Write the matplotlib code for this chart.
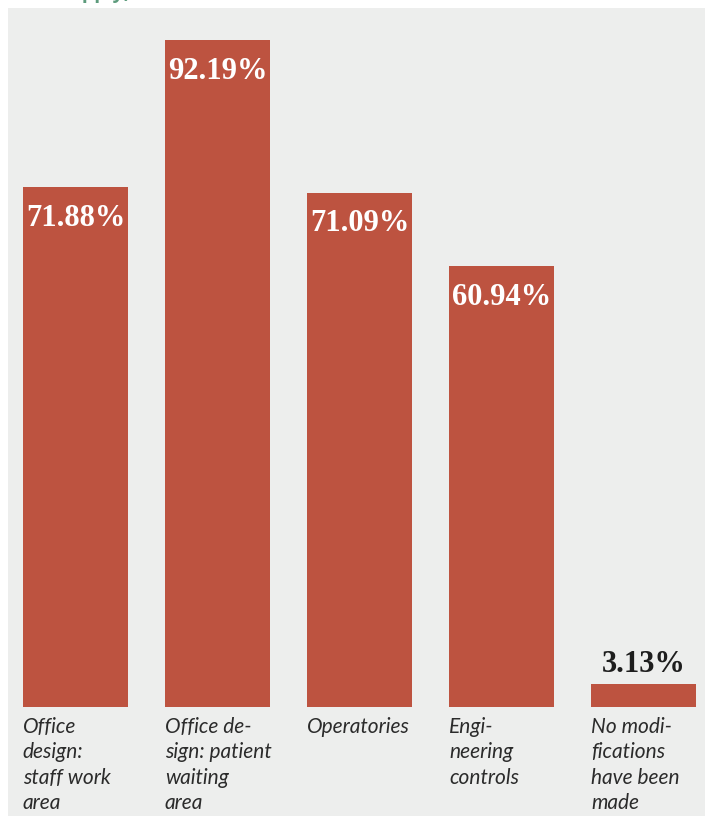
import numpy as np
import matplotlib.pyplot as plt

categories = ["Office\ndesign:\nstaff work\narea",
              "Office de-\nsign: patient\nwaiting\narea",
              "Operatories",
              "Engi-\nneering\ncontrols",
              "No modi-\nfications\nhave been\nmade"]
values = [71.88, 92.19, 71.09, 60.94, 3.13]

bar_color = "#bd5340"
panel_color = "#edeeed"

fig = plt.figure(figsize=(7.05, 8.16), dpi=100)
ax = fig.add_axes([8 / 705, 0, 697 / 705, 808 / 816])
ax.set_facecolor(panel_color)

x = np.arange(len(values))
bars = ax.bar(x, values, width=0.74, color=bar_color)

ax.set_xlim(-0.475, 4.433)
ax.set_ylim(-15.07, 96.61)
for s in ax.spines.values():
    s.set_visible(False)
ax.set_xticks([])
ax.set_yticks([])

for xi, v, lab in zip(x, values, categories):
    if v > 10:
        ax.annotate(f"{v:.2f}%", (xi, v), xytext=(0, -12), textcoords="offset points",
                    ha="center", va="top", color="white", fontsize=22,
                    fontweight="bold", family="Liberation Serif")
    else:
        ax.annotate(f"{v:.2f}%", (xi, v), xytext=(0, 4), textcoords="offset points",
                    ha="center", va="bottom", color="#1e1e1e", fontsize=22,
                    fontweight="bold", family="Liberation Serif")
    ax.annotate(lab, (xi - 0.37, 0), xytext=(0, -7), textcoords="offset points",
                ha="left", va="top", color="#2b2b2b", fontsize=15, style="italic",
                family=["Lato", "DejaVu Sans"], linespacing=1.34)

# title line above the panel, mostly cropped off
fig.text(70 / 705, 1 + 1.5 / 816, "apply)", color="#5d9b7c", fontsize=14,
         fontweight="bold", va="baseline", ha="left", family="Open Sans")

fig.savefig("out.png", dpi=100)
